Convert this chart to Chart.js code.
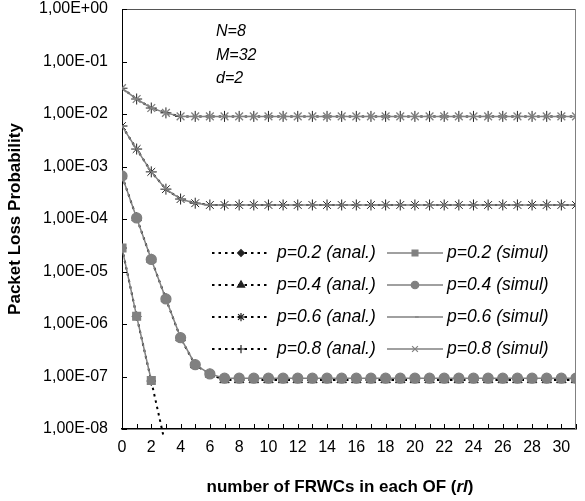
<!DOCTYPE html>
<html>
<head>
<meta charset="utf-8">
<script src="https://cdn.jsdelivr.net/npm/chart.js@4/dist/chart.umd.min.js"></script>
<style>
  html, body { margin: 0; padding: 0; background: #fff; }
  #wrap { width: 585px; height: 501px; }
</style>
</head>
<body>
<div id="wrap"><canvas id="chart" width="585" height="501"></canvas></div>
<script>
// r = number of FRWCs in each OF
const rValues = Array.from({ length: 32 }, (_, i) => i);
const xTickLabels = ['0', '2', '4', '6', '8', '10', '12', '14', '16', '18', '20', '22', '24', '26', '28', '30'];
const yTickValues = [1e-8, 1e-7, 1e-6, 1e-5, 1e-4, 1e-3, 1e-2, 1e-1, 1];

// analytical results (r = 0, 1, 2, ...)
const anal02 = [2.8e-5, 1.4e-6, 8.2e-8, 4.5e-9];
const anal04 = [6.6e-4, 1.05e-4, 1.7e-5, 3.0e-6, 5.4e-7, 1.66e-7, 1.1e-7,
  8.6e-8, 8.6e-8, 8.6e-8, 8.6e-8, 8.6e-8, 8.6e-8, 8.6e-8, 8.6e-8, 8.6e-8,
  8.6e-8, 8.6e-8, 8.6e-8, 8.6e-8, 8.6e-8, 8.6e-8, 8.6e-8, 8.6e-8, 8.6e-8,
  8.6e-8, 8.6e-8, 8.6e-8, 8.6e-8, 8.6e-8, 8.6e-8, 8.6e-8];
const anal06 = [5.9e-3, 2.15e-3, 7.9e-4, 3.7e-4, 2.4e-4, 2.0e-4, 1.85e-4,
  1.85e-4, 1.85e-4, 1.85e-4, 1.85e-4, 1.85e-4, 1.85e-4, 1.85e-4, 1.85e-4, 1.85e-4,
  1.85e-4, 1.85e-4, 1.85e-4, 1.85e-4, 1.85e-4, 1.85e-4, 1.85e-4, 1.85e-4, 1.85e-4,
  1.85e-4, 1.85e-4, 1.85e-4, 1.85e-4, 1.85e-4, 1.85e-4, 1.85e-4];
const anal08 = [3.1e-2, 1.93e-2, 1.3e-2, 1.05e-2, 9.0e-3, 9.0e-3, 9.0e-3,
  9.0e-3, 9.0e-3, 9.0e-3, 9.0e-3, 9.0e-3, 9.0e-3, 9.0e-3, 9.0e-3, 9.0e-3,
  9.0e-3, 9.0e-3, 9.0e-3, 9.0e-3, 9.0e-3, 9.0e-3, 9.0e-3, 9.0e-3, 9.0e-3,
  9.0e-3, 9.0e-3, 9.0e-3, 9.0e-3, 9.0e-3, 9.0e-3, 9.0e-3];

// simulation results
const simul02 = [2.8e-5, 1.4e-6, 8.4e-8];
const simul04 = [6.6e-4, 1.05e-4, 1.7e-5, 3.0e-6, 5.5e-7, 1.68e-7, 1.12e-7,
  9.3e-8, 9.3e-8, 9.3e-8, 9.3e-8, 9.3e-8, 9.3e-8, 9.3e-8, 9.3e-8, 9.3e-8,
  9.3e-8, 9.3e-8, 9.3e-8, 9.3e-8, 9.3e-8, 9.3e-8, 9.3e-8, 9.3e-8, 9.3e-8,
  9.3e-8, 9.3e-8, 9.3e-8, 9.3e-8, 9.3e-8, 9.3e-8, 9.3e-8];
const simul06 = [5.9e-3, 2.15e-3, 7.9e-4, 3.7e-4, 2.4e-4, 2.0e-4, 1.85e-4,
  1.85e-4, 1.85e-4, 1.85e-4, 1.85e-4, 1.85e-4, 1.85e-4, 1.85e-4, 1.85e-4, 1.85e-4,
  1.85e-4, 1.85e-4, 1.85e-4, 1.85e-4, 1.85e-4, 1.85e-4, 1.85e-4, 1.85e-4, 1.85e-4,
  1.85e-4, 1.85e-4, 1.85e-4, 1.85e-4, 1.85e-4, 1.85e-4, 1.85e-4];
const simul08 = [3.1e-2, 1.93e-2, 1.3e-2, 1.05e-2, 9.0e-3, 9.0e-3, 9.0e-3,
  9.0e-3, 9.0e-3, 9.0e-3, 9.0e-3, 9.0e-3, 9.0e-3, 9.0e-3, 9.0e-3, 9.0e-3,
  9.0e-3, 9.0e-3, 9.0e-3, 9.0e-3, 9.0e-3, 9.0e-3, 9.0e-3, 9.0e-3, 9.0e-3,
  9.0e-3, 9.0e-3, 9.0e-3, 9.0e-3, 9.0e-3, 9.0e-3, 9.0e-3];

const paramLines = ['N=8', 'M=32', 'd=2'];

const FONT = '"Liberation Sans", Arial, sans-serif';
const GRAY = '#808080';
const DOTS = [2.5, 4];

const toPoints = arr => arr.map((v, i) => ({ x: rValues[i], y: v }));

const analSet = (label, data, style, radius) => ({
    label,
    data: toPoints(data),
    borderColor: '#000',
    borderWidth: 2,
    borderDash: DOTS,
    pointStyle: style,
    pointRadius: radius,
    pointBackgroundColor: '#222',
    pointBorderColor: '#222',
    pointBorderWidth: 1,
    order: 1,
    clip: { left: 0, top: 0, right: 0, bottom: 6 },
});

const simulSet = (label, data, style, radius) => ({
    label,
    data: toPoints(data),
    borderColor: GRAY,
    borderWidth: 1.5,
    pointStyle: style,
    pointRadius: radius,
    pointBackgroundColor: GRAY,
    pointBorderColor: GRAY,
    pointBorderWidth: 1.3,
    order: 0,
});

const datasets = [
    analSet('p=0.2 (anal.)', anal02, 'rectRot', 4.5),
    analSet('p=0.4 (anal.)', anal04, 'triangle', 5.5),
    analSet('p=0.6 (anal.)', anal06, 'star', 5.5),
    analSet('p=0.8 (anal.)', anal08, 'cross', 5.5),
    simulSet('p=0.2 (simul)', simul02, 'rect', 5.5),
    simulSet('p=0.4 (simul)', simul04, 'circle', 5),
    simulSet('p=0.6 (simul)', simul06, 'dash', 5),
    simulSet('p=0.8 (simul)', simul08, 'crossRot', 5.5),
];

function fmtExp(v) {
    const e = Math.round(Math.log10(v));
    const sign = e < 0 ? '-' : '+';
    return '1,00E' + sign + String(Math.abs(e)).padStart(2, '0');
}

function marker(ctx, style, radius, x, y, fill, stroke) {
    ctx.save();
    ctx.fillStyle = fill;
    ctx.strokeStyle = stroke;
    ctx.lineWidth = 1.2;
    ctx.setLineDash([]);
    Chart.helpers.drawPoint(ctx, { pointStyle: style, radius, rotation: 0, borderWidth: 1.2 }, x, y);
    ctx.restore();
}

// inward ticks, box frame, axis titles, notes and the legend
const decorations = {
    id: 'decorations',
    afterDraw(chart) {
        const { ctx, chartArea: { left, right, top, bottom }, scales: { x, y } } = chart;
        ctx.save();

        // frame
        ctx.strokeStyle = '#555';
        ctx.lineWidth = 1;
        ctx.beginPath();
        ctx.moveTo(left, top + 0.5);
        ctx.lineTo(right, top + 0.5);
        ctx.stroke();
        ctx.strokeStyle = GRAY;
        ctx.beginPath();
        ctx.moveTo(right - 0.5, top);
        ctx.lineTo(right - 0.5, bottom);
        ctx.stroke();

        // ticks pointing into the plot
        ctx.strokeStyle = '#000';
        ctx.lineWidth = 1;
        rValues.forEach(r => {
            const px = Math.round(x.getPixelForValue(r)) + 0.5;
            ctx.beginPath();
            ctx.moveTo(px, bottom);
            ctx.lineTo(px, bottom - 5);
            ctx.stroke();
        });
        yTickValues.forEach(v => {
            const py = Math.round(y.getPixelForValue(v)) + 0.5;
            ctx.beginPath();
            ctx.moveTo(left, py);
            ctx.lineTo(left + 5, py);
            ctx.stroke();
        });

        // y title
        ctx.fillStyle = '#000';
        ctx.font = 'bold 17px ' + FONT;
        ctx.textAlign = 'center';
        ctx.textBaseline = 'middle';
        ctx.save();
        ctx.translate(15, (top + bottom) / 2);
        ctx.rotate(-Math.PI / 2);
        ctx.fillText('Packet Loss Probability', 0, 0);
        ctx.restore();

        // x title with italic rl
        const parts = [
            ['number of FRWCs in each OF (', 'bold 17px ' + FONT],
            ['rl', 'italic bold 17px ' + FONT],
            [')', 'bold 17px ' + FONT],
        ];
        let total = 0;
        parts.forEach(([t, f]) => { ctx.font = f; total += ctx.measureText(t).width; });
        let tx = 340 - total / 2;
        ctx.textAlign = 'left';
        parts.forEach(([t, f]) => {
            ctx.font = f;
            ctx.fillText(t, tx, 487);
            tx += ctx.measureText(t).width;
        });

        // parameters
        ctx.font = 'italic 16px ' + FONT;
        paramLines.forEach((t, i) => ctx.fillText(t, 216, 32 + i * 23.5));

        // legend: two columns, anal. left, simul right
        ctx.font = 'italic 17.5px ' + FONT;
        for (let i = 0; i < 4; i++) {
            const ly = 253 + i * 32;
            const a = datasets[i];
            const s = datasets[i + 4];

            ctx.strokeStyle = '#000';
            ctx.lineWidth = 2;
            ctx.setLineDash(DOTS);
            ctx.beginPath();
            ctx.moveTo(212, ly);
            ctx.lineTo(269, ly);
            ctx.stroke();
            ctx.setLineDash([]);
            marker(ctx, a.pointStyle, a.pointRadius * 0.75, 241, ly, '#222', '#222');
            ctx.fillStyle = '#000';
            ctx.fillText(a.label, 277, ly);

            ctx.strokeStyle = GRAY;
            ctx.lineWidth = 1.5;
            ctx.beginPath();
            ctx.moveTo(387, ly);
            ctx.lineTo(443, ly);
            ctx.stroke();
            marker(ctx, s.pointStyle, s.pointRadius * 0.75, 415, ly, GRAY, GRAY);
            ctx.fillStyle = '#000';
            ctx.fillText(s.label, 447, ly);
        }
        ctx.restore();
    }
};

new Chart(document.getElementById('chart').getContext('2d'), {
    type: 'line',
    data: { datasets },
    options: {
        responsive: false,
        animation: false,
        events: [],
        layout: { padding: { top: 9, right: 9, left: 0, bottom: 0 } },
        plugins: { legend: { display: false }, tooltip: { enabled: false } },
        scales: {
            x: {
                type: 'linear',
                min: 0,
                max: 31,
                afterFit: s => { s.height = 72; s.paddingLeft = 0; s.paddingRight = 0; },
                afterBuildTicks: s => { s.ticks = rValues.map(v => ({ value: v })); },
                grid: { display: false, drawTicks: false },
                border: { display: true, color: '#000', width: 1.5 },
                ticks: {
                    autoSkip: false,
                    maxRotation: 0,
                    padding: 9,
                    color: '#000',
                    font: { family: FONT, size: 16 },
                    callback: v => xTickLabels.includes(String(v)) ? String(v) : '',
                },
            },
            y: {
                type: 'logarithmic',
                min: 1e-8,
                max: 1,
                afterFit: s => { s.width = 122; s.paddingTop = 0; s.paddingBottom = 0; },
                afterBuildTicks: s => { s.ticks = yTickValues.map(v => ({ value: v })); },
                grid: { display: false, drawTicks: false },
                border: { display: true, color: '#000', width: 1 },
                ticks: {
                    padding: 14,
                    color: '#000',
                    font: { family: FONT, size: 16 },
                    callback: v => fmtExp(v),
                },
            },
        },
    },
    plugins: [decorations],
});
</script>
</body>
</html>
